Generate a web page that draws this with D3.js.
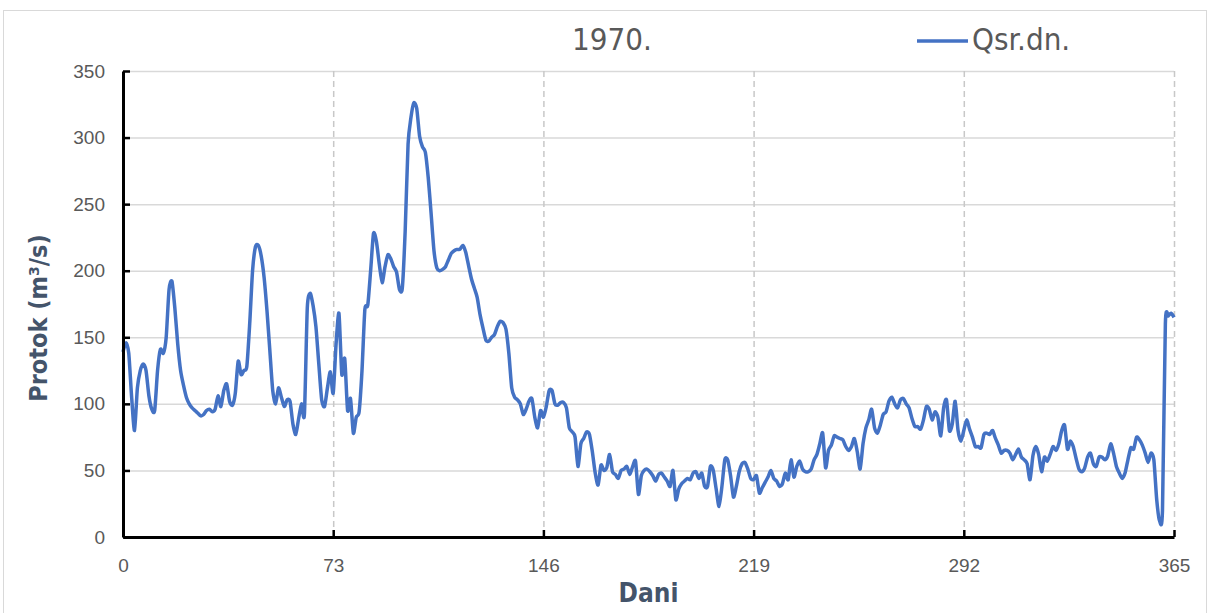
<!DOCTYPE html>
<html>
<head>
<meta charset="utf-8">
<script src="https://cdn.jsdelivr.net/npm/d3@7"></script>
<style>
  body { margin: 0; background: #fff; }
  svg { font-family: "Liberation Sans Narrow", "DejaVu Sans Condensed", sans-serif; }
</style>
</head>
<body>
<div id="chart"></div>
<script>
// Data (daily discharge, day 0..365)
const title = "1970.";
const seriesName = "Qsr.dn.";
const xTicks = [0, 73, 146, 219, 292, 365];
const yTicks = [0, 50, 100, 150, 200, 250, 300, 350];
const flow = [
  139, 146, 138, 105, 80, 112, 125, 130, 125, 106,
  96, 95, 125, 141, 138, 150, 186, 192, 172, 145,
  125, 114, 105, 100, 97, 95, 93, 91, 92, 95,
  96, 94, 96, 106, 98, 110, 115, 102, 99, 108,
  132, 122, 125, 128, 160, 200, 218, 219, 211, 195,
  170, 140, 110, 100, 112, 105, 98, 103, 102, 85,
  77, 89, 100, 92, 172, 183, 174, 158, 130, 103,
  98, 112, 124, 108, 145, 168, 122, 134, 95, 104,
  78, 90, 94, 125, 171, 174, 200, 228, 222, 205,
  191, 203, 212, 209, 203, 199, 186, 187, 230, 295,
  315, 326, 322, 301, 293, 289, 270, 243, 215, 202,
  200, 201, 203, 208, 213, 215, 216, 216, 219, 214,
  204, 194, 187, 180, 167, 157, 148, 147, 150, 152,
  158, 162, 161, 156, 138, 112, 105, 103, 100, 92,
  96, 102, 104, 90, 82, 95, 90, 98, 110, 110,
  100, 99, 101, 101, 97, 82, 79, 75, 53, 70,
  74, 79, 77, 64, 48, 39, 54, 50, 52, 62,
  49, 47, 44, 50, 51, 53, 47, 53, 57, 32,
  46, 50, 51, 49, 46, 42, 47, 48, 45, 42,
  38, 50, 28, 36, 40, 42, 44, 43, 48, 49,
  44, 48, 38, 38, 53, 50, 36, 23, 38, 58,
  58, 46, 30, 38, 49, 55, 56, 51, 44, 43,
  46, 33, 37, 41, 45, 50, 44, 42, 38, 40,
  48, 43, 58, 45, 53, 57, 51, 49, 49, 51,
  58, 62, 70, 78, 52, 65, 69, 76, 75, 74,
  73, 68, 65, 68, 74, 64, 51, 70, 82, 88,
  96, 82, 78, 84, 92, 94, 102, 105, 100, 97,
  103, 104, 100, 97, 89, 83, 83, 81, 88, 98,
  96, 88, 94, 90, 76, 97, 103, 80, 85, 102,
  80, 72, 80, 88, 81, 75, 68, 68, 67, 77,
  78, 77, 80, 74, 69, 63, 65, 65, 63, 58,
  62, 66, 60, 58, 55, 43, 61, 68, 62, 49,
  60, 57, 62, 68, 65, 70, 80, 84, 66, 72,
  68, 59, 51, 49, 52, 60, 63, 55, 53, 60,
  60, 58, 61, 70, 63, 53, 48, 44, 48, 58,
  67, 66, 75, 73, 69, 63, 56, 63, 58, 28,
  12, 20, 160, 166, 168, 165
];

const width = 1213, height = 613;
const plotLeft = 123, plotRight = 1174, plotTop = 71, plotBottom = 537;

const svg = d3.select("#chart").append("svg")
    .attr("width", width)
    .attr("height", height);

// chart frame
svg.append("rect")
    .attr("x", 3.5).attr("y", 10.5)
    .attr("width", 1203).attr("height", 612)
    .attr("fill", "#fff")
    .attr("stroke", "#d9d9d9");

const x = d3.scaleLinear().domain([0, 365]).range([plotLeft, plotRight]);
const y = d3.scaleLinear().domain([0, 350]).range([plotBottom, plotTop]);

// horizontal grid (solid)
svg.append("g")
    .attr("transform", `translate(${plotLeft},0)`)
    .call(d3.axisLeft(y).tickValues(yTicks).tickSize(-(plotRight - plotLeft)).tickFormat(""))
    .call(g => g.select(".domain").remove())
    .call(g => g.selectAll("line").attr("stroke", "#d9d9d9").attr("stroke-width", 1.5));

// vertical grid (dashed)
svg.append("g")
    .attr("transform", `translate(0,${plotBottom})`)
    .call(d3.axisBottom(x).tickValues(xTicks.slice(1)).tickSize(-(plotBottom - plotTop)).tickFormat(""))
    .call(g => g.select(".domain").remove())
    .call(g => g.selectAll("line").attr("stroke", "#c8c8c8").attr("stroke-width", 1.5)
        .attr("stroke-dasharray", "6,4"));

// series line
const line = d3.line()
    .x((d, i) => x(i))
    .y(d => y(d))
    .curve(d3.curveCardinal.tension(0.3));

svg.append("path")
    .datum(flow)
    .attr("fill", "none")
    .attr("stroke", "#4472c4")
    .attr("stroke-width", 3.5)
    .attr("stroke-linejoin", "round")
    .attr("d", line);

// axes
const yAxis = svg.append("g")
    .attr("transform", `translate(${plotLeft},0)`)
    .call(d3.axisLeft(y).tickValues(yTicks).tickSizeInner(-7).tickSizeOuter(0).tickPadding(18));

const xAxis = svg.append("g")
    .attr("transform", `translate(0,${plotBottom})`)
    .call(d3.axisBottom(x).tickValues(xTicks).tickSizeInner(-7).tickSizeOuter(0).tickPadding(22));

[yAxis, xAxis].forEach(g => {
  g.select(".domain").attr("stroke", "#000").attr("stroke-width", 3);
  g.selectAll(".tick line").attr("stroke", "#000").attr("stroke-width", 2.5);
  g.selectAll(".tick text")
      .attr("fill", "#595959")
      .style("font-size", "19px")
      .style("font-family", "inherit");
});

// title
svg.append("text")
    .attr("x", 612).attr("y", 50)
    .attr("text-anchor", "middle")
    .attr("fill", "#595959")
    .style("font-size", "31px")
    .text(title);

// legend
svg.append("line")
    .attr("x1", 917).attr("x2", 968)
    .attr("y1", 41).attr("y2", 41)
    .attr("stroke", "#4472c4")
    .attr("stroke-width", 3.5);
svg.append("text")
    .attr("x", 972).attr("y", 50)
    .attr("fill", "#595959")
    .style("font-size", "31px")
    .text(seriesName);

// axis titles
svg.append("text")
    .attr("x", (plotLeft + plotRight) / 2).attr("y", 602)
    .attr("text-anchor", "middle")
    .attr("fill", "#44546a")
    .style("font-size", "26px")
    .style("font-weight", "bold")
    .text("Dani");

svg.append("text")
    .attr("transform", "translate(47,318) rotate(-90)")
    .attr("text-anchor", "middle")
    .attr("fill", "#44546a")
    .style("font-size", "25px")
    .style("font-weight", "bold")
    .text("Protok (m³/s)");
</script>
</body>
</html>
